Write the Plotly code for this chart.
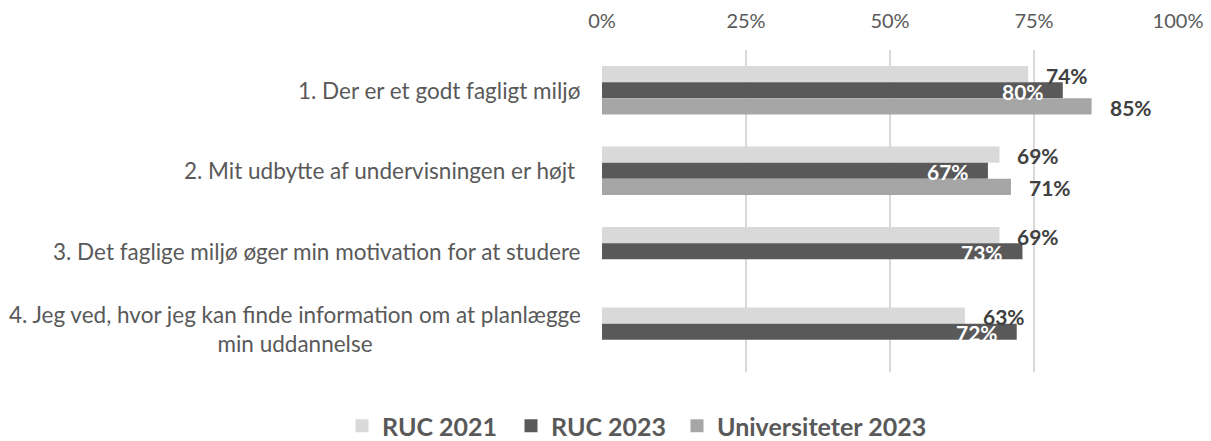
import plotly.graph_objects as go

categories = [
    "1. Der er et godt fagligt miljø",
    "2. Mit udbytte af undervisningen er højt\u00a0",
    "3. Det faglige miljø øger min motivation for at studere",
    "4. Jeg ved, hvor jeg kan finde information om at planlægge<br>min uddannelse",
]
series_names = ["RUC 2021", "RUC 2023", "Universiteter 2023"]
ruc_2021 = [74, 69, 69, 63]
ruc_2023 = [80, 67, 73, 72]
uni_2023 = [85, 71, None, None]
tick_values = [0, 25, 50, 75, 100]
tick_labels = ["0%", "25%", "50%", "75%", "100%"]

colors = ["#D9D9D9", "#595959", "#A6A6A6"]
FONT = "Lato"
W, H = 1203, 433  # page body adds an 8px margin

fig = go.Figure()
all_series = [ruc_2021, ruc_2023, uni_2023]
for name, vals, col in zip(series_names, all_series, colors):
    fig.add_trace(go.Bar(
        y=categories, x=vals, name=name, orientation="h",
        marker=dict(color=col, line=dict(width=0)),
        hoverinfo="skip", showlegend=False,
    ))

# legend entries: one legend per series, for exact placement
legend_ids = ["legend", "legend2", "legend3"]
legend_left = [334, 503, 669]
for name, col, lid in zip(series_names, colors, legend_ids):
    fig.add_trace(go.Scatter(
        x=[None], y=[None], mode="markers", name=name,
        marker=dict(symbol="square", size=13, color=col),
        hoverinfo="skip", showlegend=True, legend=lid,
    ))

annotations = []
offsets = [16, 0, -16]
for i, (vals, col) in enumerate(zip(all_series, colors)):
    inside = (i == 1)
    for cat, v in zip(categories, vals):
        if v is None:
            continue
        annotations.append(dict(
            x=v, y=cat, xref="x", yref="y",
            text=f"<b>{v}%</b>", showarrow=False,
            xanchor="right" if inside else "left",
            xshift=-17 if inside else 16,
            yshift=offsets[i] - 1,
            font=dict(family=FONT, size=21, color="#FFFFFF" if inside else "#404040"),
        ))

for cat in categories:
    multi = "<br>" in cat
    annotations.append(dict(
        x=0, y=cat, xref="paper", yref="y",
        text=cat, showarrow=False, xanchor="right", align="center",
        xshift=-19, yshift=3 if multi else 0,
        font=dict(family=FONT, size=22.5, color="#595959"),
    ))

legend_common = dict(
    orientation="h", xref="container", yref="container",
    xanchor="left", y=15 / H, yanchor="middle",
    font=dict(family=FONT, size=25, color="#595959", weight="bold"),
    itemsizing="trace", bgcolor="rgba(0,0,0,0)",
)
legends = {}
for lid, left in zip(legend_ids, legend_left):
    legends[lid] = dict(legend_common, x=left / W)

fig.update_layout(
    width=W, height=H,
    margin=dict(l=594, r=33, t=42, b=69, autoexpand=False),
    paper_bgcolor="white", plot_bgcolor="white",
    barmode="group", bargap=0.4, bargroupgap=0,
    font=dict(family=FONT, color="#595959"),
    showlegend=True,
    annotations=annotations,
    **legends,
)
fig.update_xaxes(
    range=[0, 100], side="top", tickvals=tick_values, ticktext=tick_labels,
    showgrid=True, gridcolor="#D9D9D9", gridwidth=1.5,
    zeroline=False, showline=False, ticks="",
    tickfont=dict(family=FONT, size=20, color="#595959"),
    ticklabelstandoff=17, automargin=False,
)
fig.update_yaxes(
    autorange="reversed", showticklabels=False, showgrid=False,
    zeroline=False, showline=False, ticks="", automargin=False,
)

fig.write_html("out.html")
